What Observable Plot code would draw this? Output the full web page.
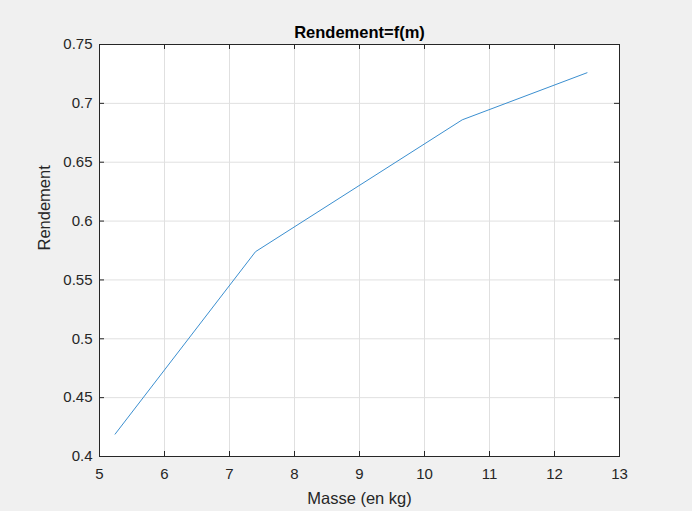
<!DOCTYPE html>
<html>
<head>
<meta charset="utf-8">
<script src="https://cdn.jsdelivr.net/npm/d3@7"></script>
<script src="https://cdn.jsdelivr.net/npm/@observablehq/plot@0.6"></script>
<style>
  html, body { margin: 0; padding: 0; background: #f0f0f0; }
  svg { display: block; }
</style>
</head>
<body>
<div id="chart"></div>
<script>
const masse = [5.24, 7.4, 10.58, 12.5];
const rendement = [0.419, 0.574, 0.686, 0.726];
const xTicks = [5, 6, 7, 8, 9, 10, 11, 12, 13];
const yTicks = [0.4, 0.45, 0.5, 0.55, 0.6, 0.65, 0.7, 0.75];
const title = "Rendement=f(m)";
const xLabel = "Masse (en kg)";
const yLabel = "Rendement";

const data = masse.map((m, i) => ({m, r: rendement[i]}));
const axisColor = "#262626";
const gridColor = "#e0e0e0";
const fmt = d => String(+d.toFixed(2));

const plot = Plot.plot({
  width: 692,
  height: 511,
  marginLeft: 99,
  marginRight: 73,
  marginTop: 44,
  marginBottom: 55,
  style: {background: "#f0f0f0", fontFamily: "'Liberation Sans', Arial, sans-serif", color: axisColor},
  x: {domain: [5, 13]},
  y: {domain: [0.4, 0.75]},
  marks: [
    Plot.frame({fill: "white", stroke: "none"}),
    Plot.gridX(xTicks, {stroke: gridColor, strokeOpacity: 1}),
    Plot.gridY(yTicks, {stroke: gridColor, strokeOpacity: 1}),
    Plot.line(data, {x: "m", y: "r", stroke: "#3b8fd0", strokeWidth: 1}),
    Plot.tickX(xTicks, {x: d => d, stroke: axisColor, insetTop: 407}),
    Plot.tickX(xTicks, {x: d => d, stroke: axisColor, insetBottom: 407}),
    Plot.tickY(yTicks, {y: d => d, stroke: axisColor, insetRight: 515}),
    Plot.tickY(yTicks, {y: d => d, stroke: axisColor, insetLeft: 515}),
    Plot.frame({stroke: axisColor, strokeWidth: 1}),
    Plot.axisX(xTicks, {tickSize: 0, tickPadding: 12, fontSize: 15, tickFormat: fmt, label: null, color: axisColor}),
    Plot.axisY(yTicks, {tickSize: 0, tickPadding: 7, fontSize: 15, tickFormat: fmt, label: null, color: axisColor}),
    Plot.text([title], {frameAnchor: "top", lineAnchor: "middle", dy: -12, fontWeight: "bold", fontSize: 16.5, fill: "black"}),
    Plot.text([xLabel], {frameAnchor: "bottom", lineAnchor: "middle", dy: 42, fontSize: 16.5, fill: axisColor}),
    Plot.text([yLabel], {frameAnchor: "left", lineAnchor: "middle", dx: -55, rotate: -90, fontSize: 16.5, fill: axisColor})
  ]
});
document.getElementById("chart").appendChild(plot);
</script>
</body>
</html>
